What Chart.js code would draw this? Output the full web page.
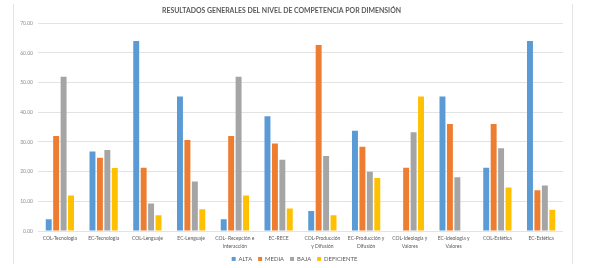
<!DOCTYPE html>
<html>
<head>
<meta charset="utf-8">
<script src="https://cdn.jsdelivr.net/npm/chart.js@4/dist/chart.umd.min.js"></script>
<style>
  body { margin: 0; background: #fff; }
  #wrap { position: relative; width: 589px; height: 268px; }
  #frame { position: absolute; left: 13px; top: 4px; width: 558px; height: 260px;
           border-left: 1px solid #e4e4e4; border-right: 1px solid #e4e4e4; }
  canvas { position: absolute; left: 0; top: 0; }
</style>
</head>
<body>
<div id="wrap">
  <div id="frame"></div>
  <canvas id="chart" width="589" height="268"></canvas>
</div>
<script>
// categories (multi-line labels as shown under the axis)
const categories = [
    ['COL-Tecnologia'],
    ['EC-Tecnologia'],
    ['COL-Lenguaje'],
    ['EC-Lenguaje'],
    ['COL- Recepción e', 'Interacción'],
    ['EC-RECE'],
    ['COL-Producción', 'y Difusión'],
    ['EC-Producción y', 'Difusión'],
    ['COL-Ideologia y', 'Valores'],
    ['EC-Ideologia y', 'Valores'],
    ['COL-Estética'],
    ['EC-Estética']
];

// values (percent)
const alta       = [4.0, 26.8, 64.0, 45.3, 4.0, 38.7, 6.7, 33.8, 0, 45.3, 21.3, 64.0];
const media      = [32.0, 24.7, 21.3, 30.7, 32.0, 29.5, 62.7, 28.4, 21.3, 36.1, 36.1, 13.7];
const baja       = [52.0, 27.3, 9.3, 16.7, 52.0, 24.0, 25.3, 20.0, 33.3, 18.1, 27.9, 15.3];
const deficiente = [12.0, 21.2, 5.3, 7.3, 12.0, 7.6, 5.3, 17.9, 45.3, 0, 14.7, 7.2];

const seriesNames = ['ALTA', 'MEDIA', 'BAJA', 'DEFICIENTE'];
const seriesColors = ['#5B9BD5', '#ED7D31', '#A5A5A5', '#FFC000'];
const yTicks = [0, 10, 20, 30, 40, 50, 60, 70];

const fontFamily = 'Lato, "Open Sans", sans-serif';

// fixed legend height, and legend centred on the whole frame instead of the plot side
const legendTweak = {
    id: 'legendTweak',
    beforeInit(chart) {
        const legend = chart.legend;
        const fit = legend.fit;
        legend.fit = function () {
            fit.call(this);
            this.height = 18;
        };
    },
    afterLayout(chart) {
        chart.legend.left += 13;
        chart.legend.right += 13;
    }
};

function setupChart() {
    const ctx = document.getElementById('chart').getContext('2d');
    const values = [alta, media, baja, deficiente];
    const datasets = seriesNames.map((name, i) => ({
        label: name,
        data: values[i],
        backgroundColor: seriesColors[i],
        borderWidth: 0,
        barPercentage: 0.8,
        categoryPercentage: 0.68
    }));

    return new Chart(ctx, {
        type: 'bar',
        data: { labels: categories, datasets: datasets },
        plugins: [legendTweak],
        options: {
            responsive: false,
            animation: false,
            layout: { padding: { left: 0, right: 26, top: 0, bottom: 0 } },
            plugins: {
                title: {
                    display: true,
                    text: 'RESULTADOS GENERALES DEL NIVEL DE COMPETENCIA POR DIMENSIÓN',
                    color: '#595959',
                    font: { family: fontFamily, size: 6.9, weight: 'bold' },
                    padding: { top: 7, bottom: 8 }
                },
                legend: {
                    position: 'bottom',
                    labels: {
                        color: '#595959',
                        font: { family: fontFamily, size: 5.9 },
                        boxWidth: 4,
                        boxHeight: 4,
                        padding: 6
                    }
                },
                tooltip: { enabled: false }
            },
            scales: {
                x: {
                    grid: { display: false, drawTicks: false },
                    border: { display: false },
                    ticks: {
                        color: '#595959',
                        font: { family: fontFamily, size: 5, lineHeight: 1.6 },
                        maxRotation: 0,
                        autoSkip: false,
                        padding: 3
                    },
                    afterFit: s => { s.height = 19; }
                },
                y: {
                    min: 0,
                    max: 70,
                    afterBuildTicks: s => { s.ticks = yTicks.map(v => ({ value: v })); },
                    grid: { color: '#e3e3e3', drawTicks: false },
                    border: { display: false },
                    ticks: {
                        color: '#8c8c8c',
                        font: { family: fontFamily, size: 5 },
                        padding: 5,
                        callback: v => v.toFixed(2)
                    },
                    afterFit: s => { s.width = 38; }
                }
            }
        }
    });
}

document.addEventListener('DOMContentLoaded', () => {
    setupChart();
});
</script>
</body>
</html>
